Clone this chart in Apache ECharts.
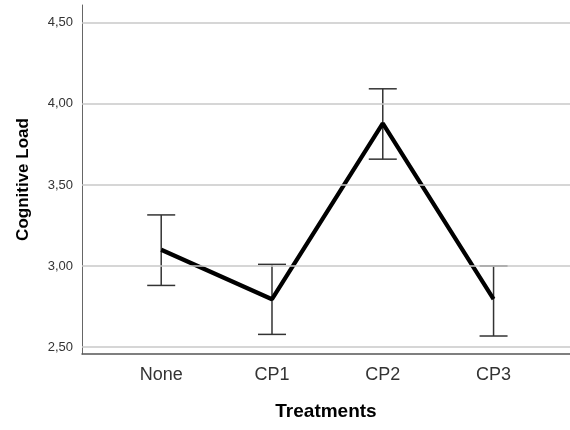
<!DOCTYPE html>
<html>
<head>
<meta charset="utf-8">
<script src="https://cdn.jsdelivr.net/npm/echarts@6/dist/echarts.min.js"></script>
<style>html,body{margin:0;padding:0;background:#fff}#c{width:570px;height:430px}</style>
</head>
<body>
<div id="c"></div>
<script>
var categories = ['None', 'CP1', 'CP2', 'CP3'];
var means = [3.10, 2.795, 3.88, 2.795];
var upper = [3.315, 3.01, 4.093, 3.00];
var lower = [2.88, 2.578, 3.659, 2.568];
var yTicks = [2.5, 3.0, 3.5, 4.0, 4.5];

var chart = echarts.init(document.getElementById('c'), null, {renderer: 'canvas'});
var FONT = '"Liberation Sans", Arial, sans-serif';

var lineData = means.map(function (v, i) { return [i, v]; });
var errData = means.map(function (v, i) { return [i, lower[i], upper[i]]; });

chart.setOption({
  animation: false,
  backgroundColor: '#fff',
  grid: {left: 82, right: 0, top: 5, bottom: 76},
  xAxis: {
    type: 'value', min: -0.715, max: 3.69,
    axisLine: {show: true, onZero: false, lineStyle: {color: '#555', width: 1.5}},
    axisTick: {show: false},
    splitLine: {show: false},
    axisLabel: {
      customValues: categories.map(function (c, i) { return i; }),
      formatter: function (v) { return categories[Math.round(v)]; },
      fontFamily: FONT, fontSize: 18, color: '#333', margin: 12
    },
    name: 'Treatments', nameLocation: 'middle', nameGap: 48,
    nameTextStyle: {fontFamily: FONT, fontSize: 19, fontWeight: 'bold', color: '#000'}
  },
  yAxis: {
    type: 'value', min: 2.457, max: 4.61,
    axisLine: {show: true, onZero: false, lineStyle: {color: '#666', width: 1}},
    axisTick: {show: false},
    splitLine: {show: false},
    axisLabel: {
      customValues: yTicks,
      formatter: function (v) { return v.toFixed(2).replace('.', ','); },
      fontFamily: FONT, fontSize: 13, color: '#333', margin: 9
    },
    name: 'Cognitive Load', nameLocation: 'middle', nameGap: 50,
    nameTextStyle: {fontFamily: FONT, fontSize: 17, fontWeight: 'bold', color: '#000'}
  },
  series: [
    {
      type: 'line', data: [], silent: true,
      markLine: {
        silent: true, symbol: 'none', label: {show: false},
        lineStyle: {color: '#c8c8c8', width: 1.5, type: 'solid'},
        data: yTicks.map(function (t) { return {yAxis: t}; })
      }
    },
    {
      type: 'custom', data: errData, z: 3,
      renderItem: function (params, api) {
        var x = api.value(0);
        var lo = api.coord([x, api.value(1)]);
        var hi = api.coord([x, api.value(2)]);
        var hw = 14;
        var st = {stroke: '#333', lineWidth: 1.5};
        return {type: 'group', children: [
          {type: 'line', shape: {x1: lo[0], y1: lo[1], x2: hi[0], y2: hi[1]}, style: st},
          {type: 'line', shape: {x1: hi[0] - hw, y1: hi[1], x2: hi[0] + hw, y2: hi[1]}, style: st},
          {type: 'line', shape: {x1: lo[0] - hw, y1: lo[1], x2: lo[0] + hw, y2: lo[1]}, style: st}
        ]};
      }
    },
    {
      type: 'line', data: lineData, z: 4,
      symbol: 'none',
      lineStyle: {color: '#000', width: 4.2}
    }
  ]
});
</script>
</body>
</html>
